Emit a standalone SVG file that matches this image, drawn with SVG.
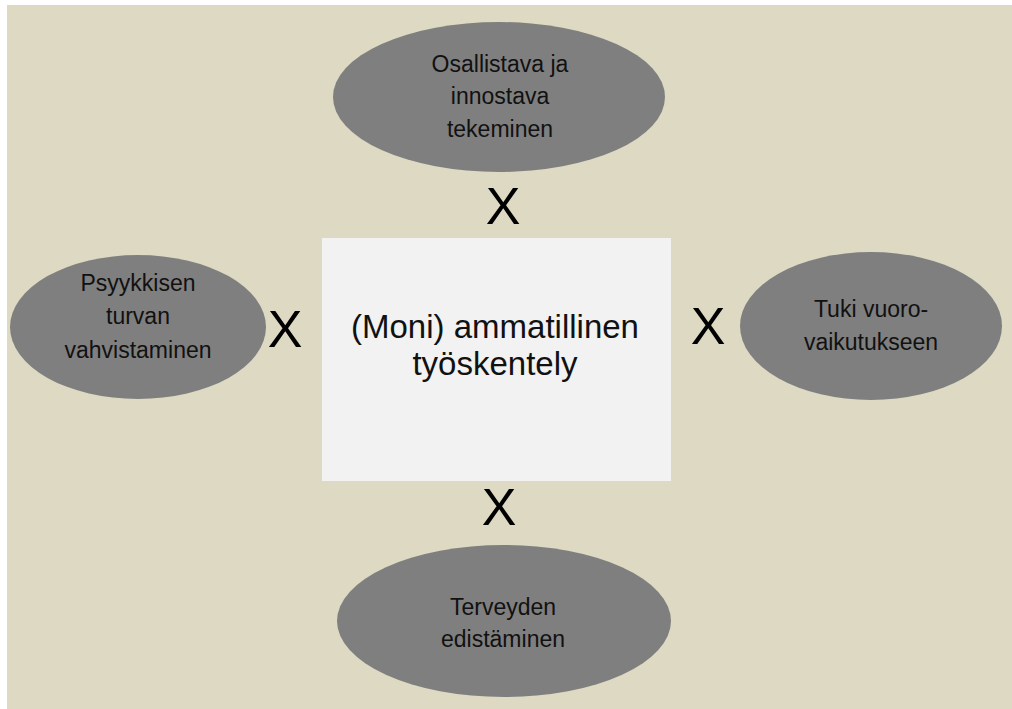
<svg xmlns="http://www.w3.org/2000/svg" width="1012" height="709" viewBox="0 0 1012 709">
<style>
.oval{fill:#7f7f7f}
.t{font-family:"Liberation Sans",Arial,sans-serif;font-size:23px;fill:#111;text-anchor:middle}
.c{font-family:"Liberation Sans",Arial,sans-serif;font-size:33px;fill:#111;text-anchor:middle}
.x{font-family:"Liberation Sans",Arial,sans-serif;font-size:52px;fill:#000;text-anchor:middle}
</style>
<rect x="0" y="0" width="1012" height="709" fill="#ffffff"/>
<rect x="7" y="5" width="1005" height="704" fill="#ddd9c3"/>
<g id="center">
<rect x="322" y="238" width="349" height="243" fill="#f2f2f2"/>
<text class="c" x="495" y="338">(Moni) ammatillinen</text>
<text class="c" x="495" y="375">työskentely</text>
</g>
<g id="top">
<ellipse class="oval" cx="499" cy="97" rx="166" ry="75"/>
<text class="t" x="500" y="72">Osallistava ja</text>
<text class="t" x="500" y="104">innostava</text>
<text class="t" x="500" y="137">tekeminen</text>
</g>
<g id="left">
<ellipse class="oval" cx="138" cy="327" rx="128" ry="72"/>
<text class="t" x="138" y="291">Psyykkisen</text>
<text class="t" x="138" y="324">turvan</text>
<text class="t" x="138" y="358">vahvistaminen</text>
</g>
<g id="right">
<ellipse class="oval" cx="871" cy="326" rx="131" ry="74"/>
<text class="t" x="871" y="317">Tuki vuoro-</text>
<text class="t" x="871" y="350">vaikutukseen</text>
</g>
<g id="bottom">
<ellipse class="oval" cx="504" cy="621" rx="167" ry="76"/>
<text class="t" x="503" y="615">Terveyden</text>
<text class="t" x="503" y="647">edistäminen</text>
</g>
<g id="connectors">
<text class="x" x="503" y="224">X</text>
<text class="x" x="285" y="347">X</text>
<text class="x" x="708" y="344">X</text>
<text class="x" x="499" y="525">X</text>
</g>
</svg>
